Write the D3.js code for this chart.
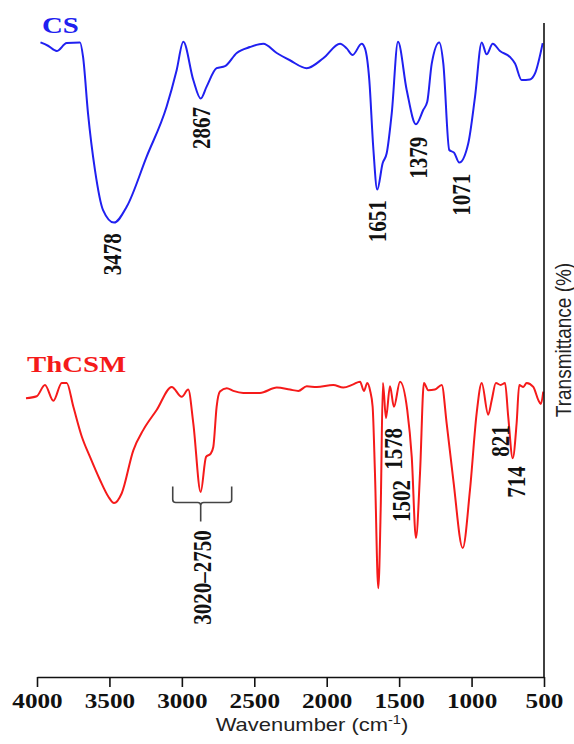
<!DOCTYPE html>
<html>
<head>
<meta charset="utf-8">
<script src="https://cdn.jsdelivr.net/npm/d3@7"></script>
<style>
  html, body { margin: 0; padding: 0; background: #fff; }
  svg { display: block; }
</style>
</head>
<body>
<svg id="ftirChart" width="574" height="744"></svg>
<script>
// wavenumber (cm-1) and transmittance (arbitrary %, offset per sample)
const csWavenumber = [3976, 3924, 3864, 3795, 3703, 3682, 3648, 3600, 3544, 3468, 3381, 3243, 3105, 3036, 2990, 2921, 2870, 2829, 2760, 2702, 2621, 2530, 2438, 2345, 2254, 2138, 2024, 1908, 1862, 1821, 1759, 1736, 1706, 1679, 1651, 1614, 1586, 1551, 1508, 1448, 1384, 1333, 1306, 1275, 1223, 1195, 1154, 1121, 1085, 1023, 976, 930, 896, 854, 804, 735, 700, 654, 597, 562, 509];
const csTransmittance = [96.6, 96.1, 95.3, 96.5, 96.6, 94.4, 85.9, 77.3, 71.2, 69.3, 71.7, 79.3, 86.9, 92.4, 96.7, 90.9, 88.1, 89.9, 92.7, 93.0, 95.0, 95.9, 96.4, 95.0, 93.9, 92.7, 94.2, 96.4, 95.7, 94.7, 96.4, 95.7, 90.9, 80.8, 74.3, 78.3, 79.8, 85.9, 96.7, 89.4, 84.2, 86.4, 87.6, 93.4, 96.6, 93.4, 80.3, 79.9, 78.4, 81.3, 88.4, 96.6, 94.8, 96.4, 95.3, 94.4, 93.4, 90.9, 91.0, 91.9, 96.5];

const thcsmWavenumber = [4076, 4002, 3945, 3887, 3829, 3795, 3749, 3691, 3634, 3565, 3508, 3468, 3415, 3335, 3266, 3174, 3070, 3001, 2956, 2921, 2870, 2833, 2801, 2783, 2760, 2737, 2690, 2645, 2576, 2461, 2345, 2254, 2196, 2138, 2069, 1955, 1886, 1817, 1770, 1743, 1720, 1701, 1683, 1667, 1644, 1627, 1612, 1591, 1563, 1536, 1494, 1444, 1413, 1384, 1356, 1329, 1299, 1253, 1206, 1172, 1126, 1061, 1011, 965, 930, 885, 861, 832, 799, 769, 747, 716, 689, 671, 643, 620, 574, 539, 522, 505];
const thcsmTransmittance = [42.7, 43.0, 44.7, 42.3, 45.0, 45.0, 41.4, 36.9, 33.8, 30.3, 27.8, 26.8, 28.3, 34.8, 37.9, 40.9, 44.4, 42.9, 44.0, 38.9, 28.5, 33.8, 34.3, 35.3, 41.4, 43.7, 44.2, 43.8, 43.5, 43.5, 44.3, 44.0, 43.8, 44.5, 44.4, 44.7, 44.3, 44.8, 45.2, 43.8, 45.0, 43.9, 41.4, 31.4, 13.9, 26.3, 45.0, 39.7, 44.5, 41.4, 45.2, 40.9, 33.8, 21.5, 31.3, 45.0, 43.9, 44.0, 44.7, 38.9, 30.3, 20.0, 28.8, 40.4, 45.0, 40.2, 42.4, 45.0, 44.7, 45.0, 39.9, 33.6, 38.9, 44.7, 44.4, 45.0, 44.4, 42.4, 41.8, 43.7];

const xTicks = [4000, 3500, 3000, 2500, 2000, 1500, 1000, 500];

// peak annotations: text, wavenumber, transmittance at the top end of the label
const csPeakLabels = ['3478', '2867', '1651', '1379', '1071'];
const csPeakWn = [3482, 2863, 1650, 1370, 1068];
const csPeakTop = [67.7, 86.8, 72.7, 82.3, 76.7];

const thcsmPeakLabels = ['3020\u20132750', '1578', '1502', '821', '714'];
const thcsmPeakWn = [2861, 1543, 1487, 804, 693];
const thcsmPeakTop = [22.7, 38.2, 30.3, 38.6, 32.4];

// brace under the C-H band of ThCSM
const braceWn = [3063, 2870, 2656];
const braceLevels = [29.3, 26.9, 24.0];

const svg = d3.select('#ftirChart');
const axisY = 677;
const stretch = 1.2;
const serif = '"Liberation Serif", "Times New Roman", serif';
const sans = '"Liberation Sans", Arial, sans-serif';
const blue = '#2020f0';
const red = '#f51a1a';

const x = d3.scaleLinear().domain([4000, 500]).range([37, 544]);
const y = d3.scaleLinear().domain([0, 100]).range([680, 20]);

const line = d3.line()
  .x(d => x(d[0]))
  .y(d => y(d[1]))
  .curve(d3.curveMonotoneX);

svg.append('path')
  .datum(d3.zip(csWavenumber, csTransmittance))
  .attr('d', line)
  .attr('fill', 'none')
  .attr('stroke', blue)
  .attr('stroke-width', 2);

svg.append('path')
  .datum(d3.zip(thcsmWavenumber, thcsmTransmittance))
  .attr('d', line)
  .attr('fill', 'none')
  .attr('stroke', red)
  .attr('stroke-width', 2);

// Eje X
const xAxis = svg.append('g')
  .attr('transform', `translate(0,${axisY})`)
  .call(d3.axisBottom(x).tickValues(xTicks).tickSize(10).tickSizeOuter(0).tickPadding(6).tickFormat(d3.format('d')));

xAxis.select('.domain').attr('stroke', '#111').attr('stroke-width', 1.6);
xAxis.selectAll('.tick line').attr('stroke', '#111').attr('stroke-width', 1.6);
xAxis.selectAll('.tick text')
  .attr('fill', '#111')
  .attr('transform', `scale(${stretch},1)`)
  .style('font-family', serif)
  .style('font-weight', 'bold')
  .style('font-size', '21px');

// right frame line
svg.append('line')
  .attr('x1', x(500)).attr('x2', x(500))
  .attr('y1', 23).attr('y2', axisY)
  .attr('stroke', '#111')
  .attr('stroke-width', 1.6);

// x label
const xLabel = svg.append('text')
  .attr('transform', `translate(312,731) scale(1.22,1)`)
  .attr('text-anchor', 'middle')
  .attr('fill', '#222')
  .style('font-family', sans)
  .style('font-size', '18px');
xLabel.append('tspan').text('Wavenumber (cm');
xLabel.append('tspan').attr('dy', -7).style('font-size', '12px').text('-1');
xLabel.append('tspan').attr('dy', 7).text(')');

// y label
svg.append('text')
  .attr('transform', `translate(563,340) scale(${stretch},1) rotate(-90)`)
  .attr('text-anchor', 'middle')
  .attr('dominant-baseline', 'central')
  .attr('fill', '#222')
  .style('font-family', sans)
  .style('font-size', '19px')
  .text('Transmittance (%)');

// sample names
svg.append('text')
  .attr('transform', `translate(42,33) scale(${stretch},1)`)
  .attr('fill', blue)
  .style('font-family', serif)
  .style('font-weight', 'bold')
  .style('font-size', '24px')
  .text('CS');

svg.append('text')
  .attr('transform', `translate(27,372) scale(${stretch},1)`)
  .attr('fill', red)
  .style('font-family', serif)
  .style('font-weight', 'bold')
  .style('font-size', '24px')
  .text('ThCSM');

// peak labels
function peakLabels(labels, wn, top) {
  svg.append('g')
    .selectAll('text')
    .data(labels)
    .enter()
    .append('text')
    .attr('transform', (d, i) => `translate(${x(wn[i])},${y(top[i])}) scale(${stretch},1) rotate(-90)`)
    .attr('text-anchor', 'end')
    .attr('dominant-baseline', 'central')
    .attr('fill', '#111')
    .style('font-family', serif)
    .style('font-weight', 'bold')
    .style('font-size', '21px')
    .text(d => d);
}
peakLabels(csPeakLabels, csPeakWn, csPeakTop);
peakLabels(thcsmPeakLabels, thcsmPeakWn, thcsmPeakTop);

// brace
const bl = x(braceWn[0]), bm = x(braceWn[1]), br = x(braceWn[2]);
const bTop = y(braceLevels[0]), bMid = y(braceLevels[1]), bBot = y(braceLevels[2]);
const r = 3;
const bracePath = d3.path();
bracePath.moveTo(bl, bTop);
bracePath.lineTo(bl, bMid - r);
bracePath.quadraticCurveTo(bl, bMid, bl + r, bMid);
bracePath.lineTo(bm - r, bMid);
bracePath.quadraticCurveTo(bm, bMid, bm, bMid + r);
bracePath.quadraticCurveTo(bm, bMid, bm + r, bMid);
bracePath.lineTo(br - r, bMid);
bracePath.quadraticCurveTo(br, bMid, br, bMid - r);
bracePath.lineTo(br, bTop);
bracePath.moveTo(bm, bMid + r);
bracePath.lineTo(bm, bBot);

svg.append('path')
  .attr('d', bracePath.toString())
  .attr('fill', 'none')
  .attr('stroke', '#444')
  .attr('stroke-width', 1.6);
</script>
</body>
</html>
